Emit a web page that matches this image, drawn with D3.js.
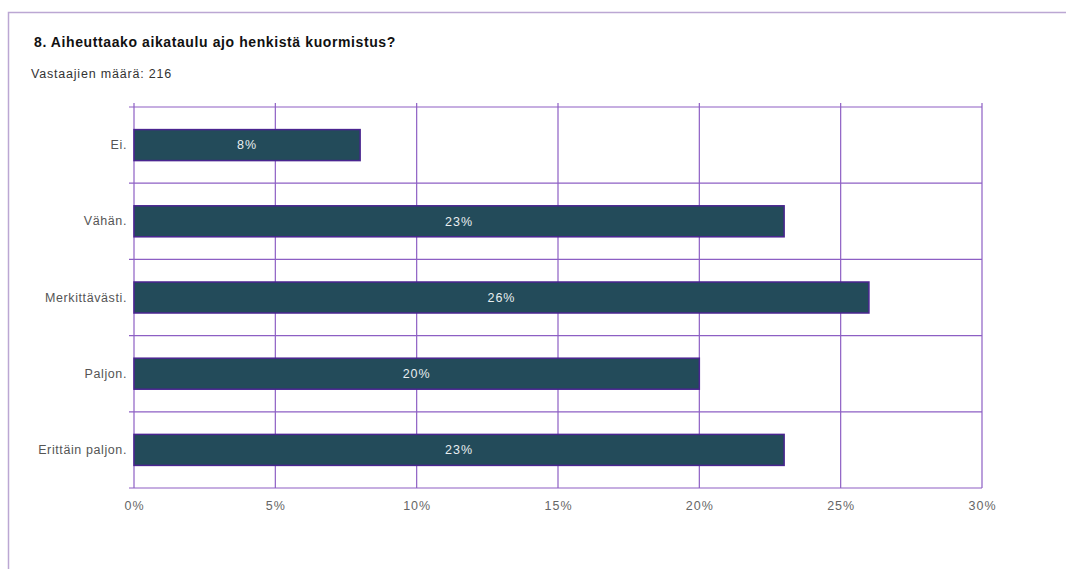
<!DOCTYPE html>
<html>
<head>
<meta charset="utf-8">
<script src="https://cdn.jsdelivr.net/npm/d3@7"></script>
<style>
  body { margin: 0; background: #fff; }
  svg { display: block; font-family: "Liberation Sans", Arial, sans-serif; }
</style>
</head>
<body>
<div id="chart"></div>
<script>
// data
var categories = ["Ei.", "Vähän.", "Merkittävästi.", "Paljon.", "Erittäin paljon."];
var values = [8, 23, 26, 20, 23];
var xTicks = [0, 5, 10, 15, 20, 25, 30];
var title = "8. Aiheuttaako aikataulu ajo henkistä kuormistus?";
var subtitle = "Vastaajien määrä: 216";

var W = 1066, H = 569;
var margin = {top: 107, right: 84, bottom: 81, left: 134},
    width = W - margin.left - margin.right,
    height = H - margin.top - margin.bottom;

var svg = d3.select("#chart")
  .append("svg")
    .attr("width", W)
    .attr("height", H);

// outer frame
svg.append("rect")
  .attr("x", 8.5).attr("y", 12.5)
  .attr("width", W).attr("height", H)
  .attr("fill", "none")
  .attr("stroke", "#bba7d3")
  .attr("stroke-width", 1.5);

svg.append("text")
  .attr("x", 34).attr("y", 47)
  .attr("font-size", "14px")
  .attr("font-weight", "bold")
  .attr("letter-spacing", "0.6px")
  .attr("fill", "#111")
  .text(title);

svg.append("text")
  .attr("x", 31).attr("y", 78)
  .attr("font-size", "12.5px")
  .attr("letter-spacing", "0.8px")
  .attr("fill", "#333")
  .text(subtitle);

var g = svg.append("g")
  .attr("transform", `translate(${margin.left},${margin.top})`);

var x = d3.scaleLinear().domain([0, 30]).range([0, width]);
var y = d3.scaleBand().domain(categories).range([0, height]);

var gridColor = "#8d5fc4";

// vertical grid lines (extend a bit above the plot)
g.selectAll(".vgrid")
  .data(xTicks)
  .join("line")
    .attr("x1", d => x(d)).attr("x2", d => x(d))
    .attr("y1", -4).attr("y2", height)
    .attr("stroke", gridColor)
    .attr("stroke-width", 1.2);

// horizontal separators (extend a bit left)
var seps = categories.map(c => y(c)).concat([height]);
g.selectAll(".hgrid")
  .data(seps)
  .join("line")
    .attr("x1", -5).attr("x2", width)
    .attr("y1", d => d).attr("y2", d => d)
    .attr("stroke", gridColor)
    .attr("stroke-width", 1.2);

// x axis labels
var xAxis = g.append("g")
  .attr("transform", `translate(0,${height})`)
  .call(d3.axisBottom(x).tickValues(xTicks).tickFormat(d => d + "%").tickSize(0).tickPadding(13));
xAxis.select(".domain").remove();
xAxis.selectAll("text")
  .attr("font-size", "12.5px")
  .attr("letter-spacing", "1px")
  .attr("font-family", "Liberation Sans, Arial, sans-serif")
  .attr("fill", "#666");

// y axis labels
var yAxis = g.append("g")
  .call(d3.axisLeft(y).tickSize(0).tickPadding(7));
yAxis.select(".domain").remove();
yAxis.selectAll("text")
  .attr("font-size", "12.5px")
  .attr("letter-spacing", "0.6px")
  .attr("font-family", "Liberation Sans, Arial, sans-serif")
  .attr("fill", "#555");

var data = categories.map((c, i) => ({cat: c, val: values[i]}));
var barH = 31;

g.selectAll(".bar")
  .data(data)
  .join("rect")
    .attr("x", x(0))
    .attr("y", d => y(d.cat) + y.bandwidth() / 2 - barH / 2)
    .attr("width", d => x(d.val) - x(0))
    .attr("height", barH)
    .attr("fill", "#234b5a")
    .attr("stroke", "#4a2590")
    .attr("stroke-width", 1.5);

g.selectAll(".barlabel")
  .data(data)
  .join("text")
    .attr("x", d => (x(0) + x(d.val)) / 2)
    .attr("y", d => y(d.cat) + y.bandwidth() / 2)
    .attr("dy", "0.35em")
    .attr("text-anchor", "middle")
    .attr("font-size", "12.5px")
    .attr("letter-spacing", "1px")
    .attr("fill", "#e8eef0")
    .text(d => d.val + "%");
</script>
</body>
</html>
